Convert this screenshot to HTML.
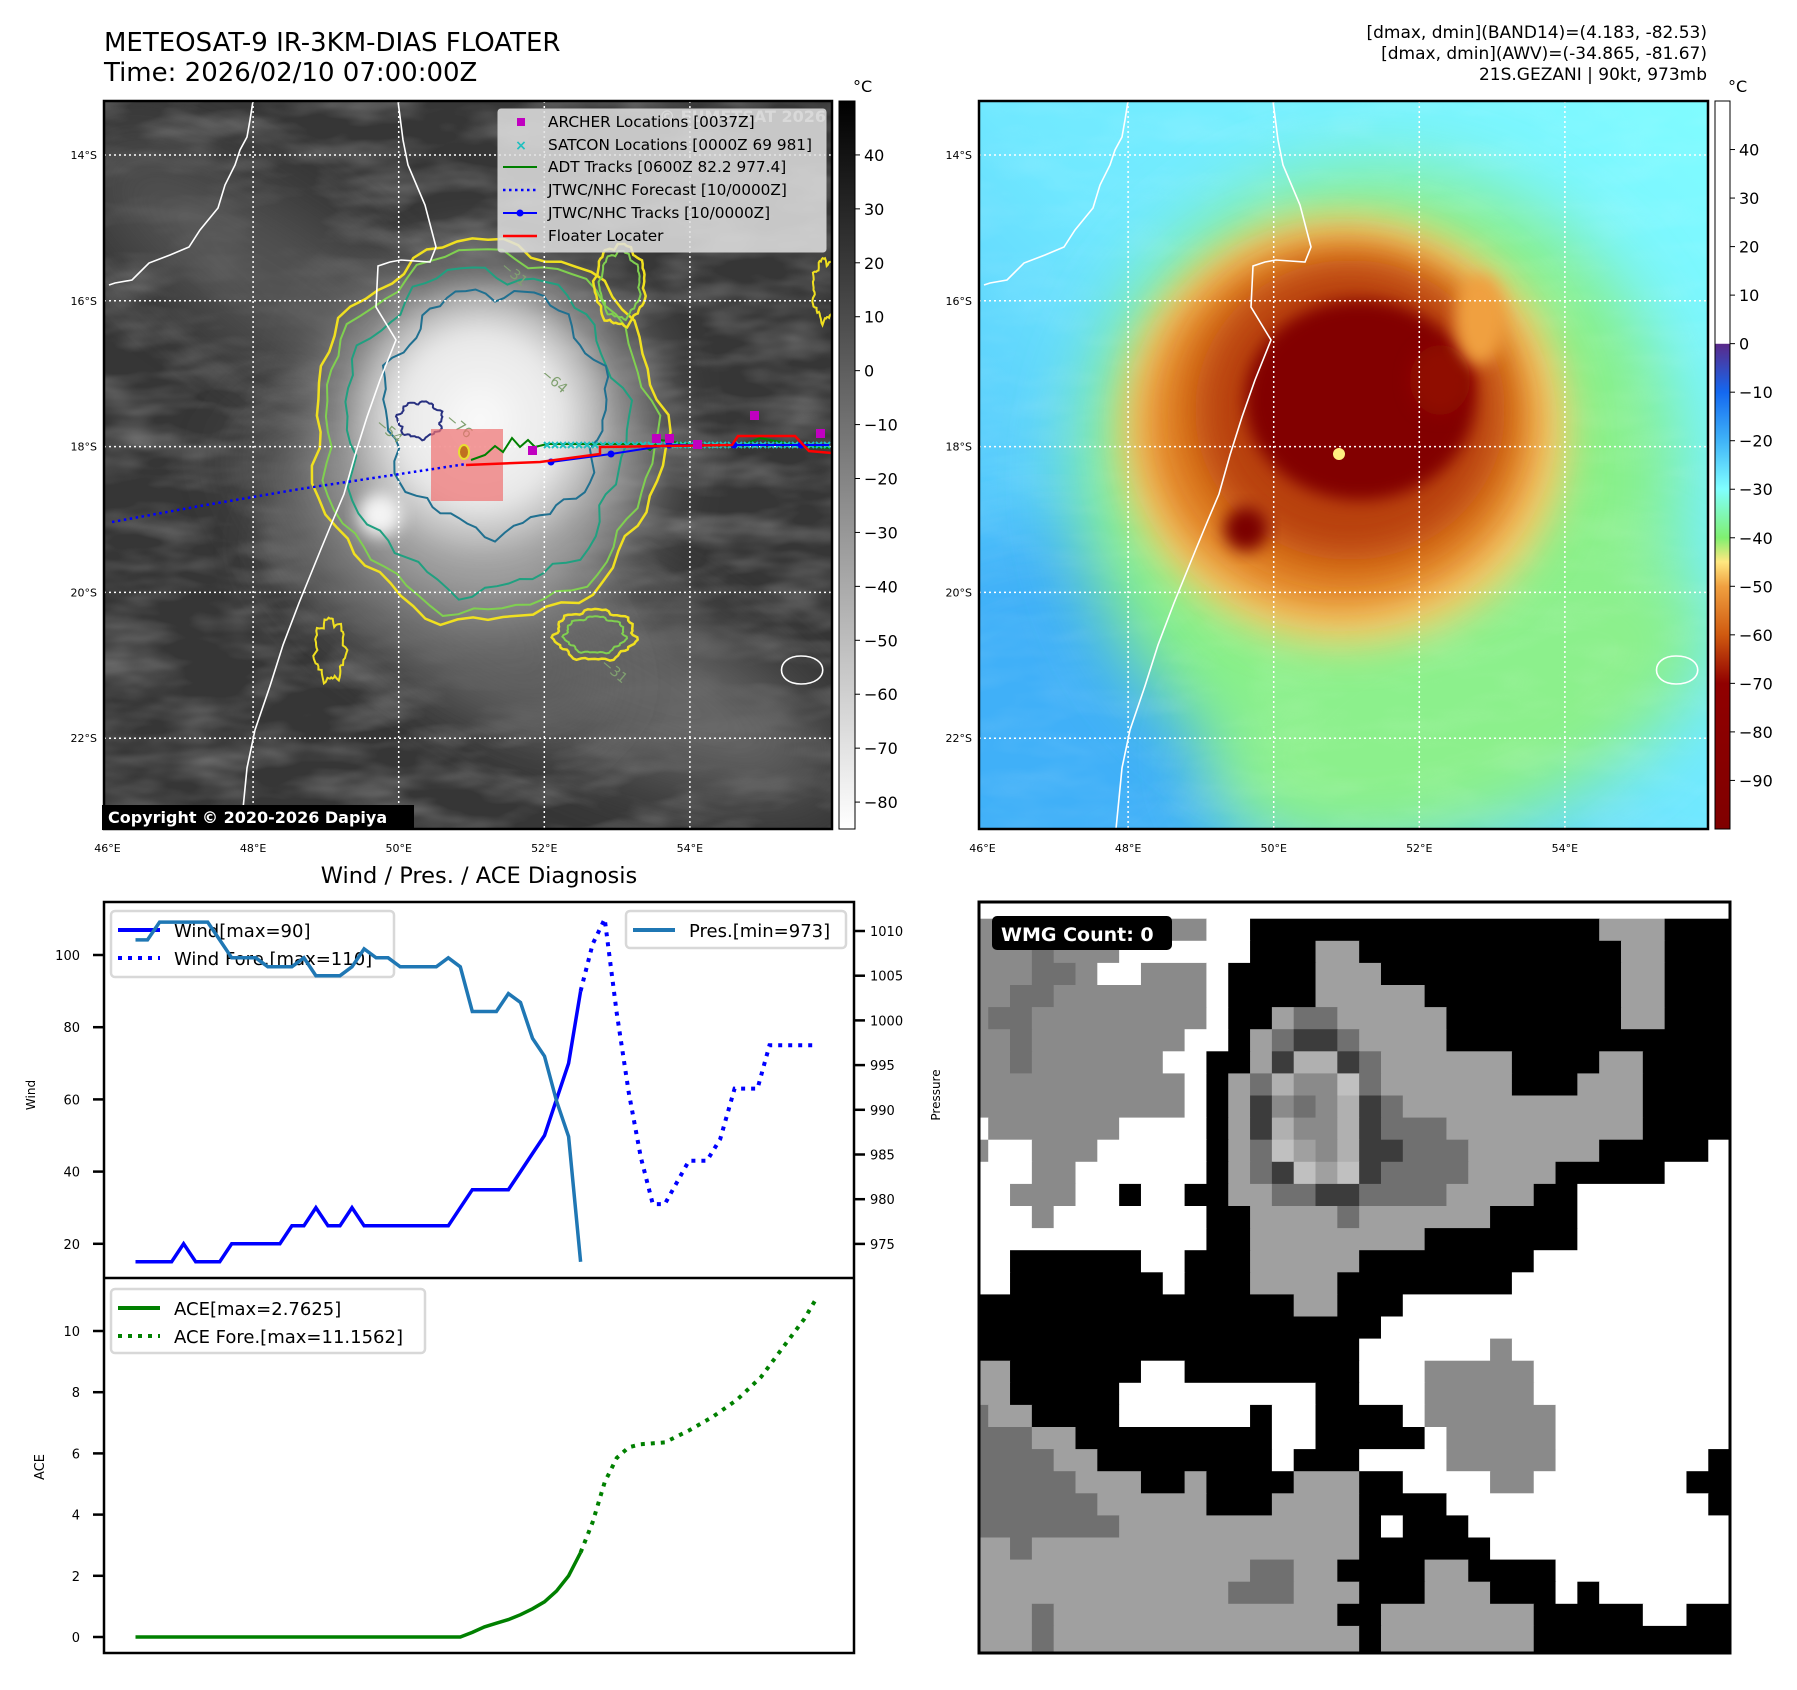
<!DOCTYPE html>
<html><head><meta charset="utf-8"><title>GEZANI diagnosis</title>
<style>
html,body{margin:0;padding:0;background:#fff;}
svg{display:block;font-family:"DejaVu Sans","Liberation Sans",sans-serif;}
</style></head>
<body>
<svg id="root" width="1797" height="1690" viewBox="0 0 1797 1690" xmlns="http://www.w3.org/2000/svg">
<defs>
  <filter id="blur8" x="-30%" y="-30%" width="160%" height="160%"><feGaussianBlur stdDeviation="8"/></filter>
  <filter id="blur20" x="-30%" y="-30%" width="160%" height="160%"><feGaussianBlur stdDeviation="20"/></filter>
  <filter id="blur35" x="-50%" y="-50%" width="200%" height="200%"><feGaussianBlur stdDeviation="35"/></filter>
  <filter id="tex" x="0" y="0" width="100%" height="100%">
    <feTurbulence type="fractalNoise" baseFrequency="0.012 0.035" numOctaves="3" seed="4"/>
    <feColorMatrix type="matrix" values="0 0 0 0 1  0 0 0 0 1  0 0 0 0 1  1.4 0 0 0 -0.55"/>
  </filter>
  <clipPath id="clip1"><rect x="104" y="101" width="728" height="728"/></clipPath>
  <clipPath id="clip2"><rect x="979" y="101" width="729" height="728"/></clipPath>
  <clipPath id="clipW"><rect x="979" y="902" width="751" height="751"/></clipPath>
  <linearGradient id="cb1" x1="0" y1="0" x2="0" y2="1"><stop offset="0" stop-color="#000"/><stop offset="1" stop-color="#fff"/></linearGradient>
  <linearGradient id="cb2" x1="0" y1="0" x2="0" y2="1">
    <stop offset="0" stop-color="#fff"/><stop offset="0.333" stop-color="#fff"/>
    <stop offset="0.334" stop-color="#5a2a8a"/><stop offset="0.40" stop-color="#1468f0"/>
    <stop offset="0.467" stop-color="#40b4f8"/><stop offset="0.533" stop-color="#80ffff"/>
    <stop offset="0.60" stop-color="#80f070"/><stop offset="0.633" stop-color="#ffe880"/>
    <stop offset="0.667" stop-color="#f0a040"/><stop offset="0.733" stop-color="#d05a10"/>
    <stop offset="0.80" stop-color="#900000"/><stop offset="1" stop-color="#800000"/>
  </linearGradient>
  <linearGradient id="bg2" x1="1" y1="0" x2="0" y2="1">
    <stop offset="0" stop-color="#80fcff"/><stop offset="0.5" stop-color="#70e8ff"/><stop offset="1" stop-color="#40b0f8"/>
  </linearGradient>
  <radialGradient id="core1"><stop offset="0" stop-color="#fafafa"/><stop offset="0.6" stop-color="#e8e8e8"/><stop offset="1" stop-color="#e0e0e0" stop-opacity="0"/></radialGradient>
</defs>

<!-- titles -->
<text x="104" y="51" font-size="26" fill="#000">METEOSAT-9 IR-3KM-DIAS FLOATER</text>
<text x="104" y="81" font-size="26" fill="#000">Time: 2026/02/10 07:00:00Z</text>
<text x="1707" y="38" font-size="17" text-anchor="end">[dmax, dmin](BAND14)=(4.183, -82.53)</text>
<text x="1707" y="59" font-size="17" text-anchor="end">[dmax, dmin](AWV)=(-34.865, -81.67)</text>
<text x="1707" y="80" font-size="17" text-anchor="end">21S.GEZANI | 90kt, 973mb</text>

<!-- MAP 1 -->
<g id="map1">
 <g clip-path="url(#clip1)">
  <rect x="104" y="101" width="728" height="728" fill="#363636"/>
  <rect x="104" y="101" width="728" height="728" filter="url(#tex)" opacity="0.35"/>
  <ellipse cx="300" cy="300" rx="260" ry="70" fill="#5a5a5a" transform="rotate(35 300 300)" filter="url(#blur35)" opacity="0.8"/>
  <ellipse cx="560" cy="650" rx="300" ry="80" fill="#6a6a6a" transform="rotate(25 560 650)" filter="url(#blur35)" opacity="0.9"/>
  <ellipse cx="420" cy="570" rx="220" ry="70" fill="#5e5e5e" transform="rotate(40 420 570)" filter="url(#blur35)"/>
  <ellipse cx="485" cy="440" rx="165" ry="175" fill="#a8a8a8" filter="url(#blur35)"/>
  <ellipse cx="480" cy="420" rx="135" ry="140" fill="url(#core1)" filter="url(#blur8)"/>
  <ellipse cx="380" cy="515" rx="22" ry="22" fill="#f4f4f4" filter="url(#blur8)"/>
  <g id="contours1" fill="none" stroke-width="2"></g>
  <g id="grid1" stroke="#fff" stroke-width="1.5" stroke-dasharray="2 3"></g>
  <path id="coast1" fill="none" stroke="#fff" stroke-width="1.6" d="M398,101 L403,140 L408,165 L425,205 L436,247 L430,262 L401,260 L390,262 L378,266 L376,307 L396,340 L380,380 L367,417 L355,455 L344,494 L333,520 L321,549 L299,603 L283,645 L270,686 L255,730 L247,768 L241,829 M253,101 L250,120 L247,137 L240,150 L235,165 L225,185 L218,208 L200,230 L189,247 L170,255 L149,263 L140,272 L132,280 L115,283 L109,285 M801,656 C830,656 830,684 801,684 C775,684 775,656 801,656 Z"/>
  <rect x="431" y="429" width="72" height="72" fill="#f07070" opacity="0.7"/>
  <ellipse cx="464" cy="452" rx="5" ry="7" fill="#c07020" stroke="#e8e030" stroke-width="2"/>
  <polyline points="112,522 200,506 300,489 400,474 466,464" fill="none" stroke="#0000ff" stroke-width="2.5" stroke-dasharray="2.5 3.5"/>
  <polyline points="471,460 485,455 495,446 503,452 512,438 520,447 528,440 535,447 547,444 600,444 640,444 650,450 660,440 700,446 740,446 760,438 780,442 800,446 830,448" fill="none" stroke="#008000" stroke-width="2"/>
  <g id="satcon" stroke="#20c0c0" stroke-width="2"></g>
  <polyline points="551,462 611,454 669,445 734,445 801,445 829,445" fill="none" stroke="#0000ff" stroke-width="2"/>
  <g fill="#0000ff"><circle cx="551" cy="462" r="3.5"/><circle cx="611" cy="454" r="3.5"/><circle cx="669" cy="445" r="3.5"/><circle cx="734" cy="445" r="3.5"/><circle cx="801" cy="445" r="3.5"/></g>
  <polyline points="466,465 540,462 600,454 600,447 732,445 738,436 795,436 809,451 832,453" fill="none" stroke="#ff0000" stroke-width="2.5"/>
  <g fill="#c000c0"><rect x="528" y="446" width="9" height="9"/><rect x="652" y="434" width="9" height="9"/><rect x="665" y="434" width="9" height="9"/><rect x="693" y="440" width="9" height="9"/><rect x="750" y="411" width="9" height="9"/><rect x="816" y="429" width="9" height="9"/></g>
  <text x="826" y="122" font-size="16" font-weight="bold" fill="#fff" opacity="0.6" text-anchor="end">© EUMETSAT 2026</text>
 </g>
 <rect x="104" y="101" width="728" height="728" fill="none" stroke="#000" stroke-width="2.5"/>
 <g>
  <rect x="498" y="109" width="328" height="143" rx="3" fill="#e0e0e0" fill-opacity="0.85" stroke="#ccc"/>
  <rect x="517" y="118" width="8" height="8" fill="#c000c0"/>
  <text x="521" y="150" font-size="14" font-weight="bold" fill="#20c0c0" text-anchor="middle">×</text>
  <line x1="503" y1="167" x2="537" y2="167" stroke="#008000" stroke-width="2"/>
  <line x1="503" y1="190" x2="537" y2="190" stroke="#0000ff" stroke-width="2.5" stroke-dasharray="2.5 3.5"/>
  <line x1="503" y1="213" x2="537" y2="213" stroke="#0000ff" stroke-width="2"/><circle cx="520" cy="213" r="3.5" fill="#0000ff"/>
  <line x1="503" y1="236" x2="537" y2="236" stroke="#ff0000" stroke-width="2.5"/>
  <g font-size="15.3" fill="#000">
   <text x="548" y="127">ARCHER Locations [0037Z]</text>
   <text x="548" y="150">SATCON Locations [0000Z 69 981]</text>
   <text x="548" y="172">ADT Tracks [0600Z 82.2 977.4]</text>
   <text x="548" y="195">JTWC/NHC Forecast [10/0000Z]</text>
   <text x="548" y="218">JTWC/NHC Tracks [10/0000Z]</text>
   <text x="548" y="241">Floater Locater</text>
  </g>
 </g>
 <rect x="102" y="805" width="312" height="25" fill="#000"/>
 <text x="108" y="823" font-size="16" font-weight="bold" fill="#fff">Copyright © 2020-2026 Dapiya</text>
 <rect x="839" y="101" width="16" height="728" fill="url(#cb1)" stroke="#000" stroke-width="1"/>
 <text x="853" y="92" font-size="16">°C</text>
 <g id="cbt1" font-size="16"></g>
 <g id="axl1" font-size="11"></g>
</g>

<!-- MAP 2 -->
<g id="map2">
 <g clip-path="url(#clip2)">
  <rect x="979" y="101" width="729" height="728" fill="url(#bg2)"/>
  <ellipse cx="1050" cy="720" rx="200" ry="190" fill="#40b0f8" filter="url(#blur35)"/>
  <ellipse cx="1380" cy="480" rx="300" ry="310" fill="#88f088" filter="url(#blur35)"/>
  <ellipse cx="1460" cy="700" rx="260" ry="130" fill="#8cf08c" filter="url(#blur35)" transform="rotate(-20 1460 700)"/>
  <rect x="979" y="101" width="729" height="728" filter="url(#tex)" opacity="0.12"/>
  <ellipse cx="1345" cy="430" rx="225" ry="215" fill="#f8d070" filter="url(#blur20)"/>
  <ellipse cx="1340" cy="425" rx="195" ry="185" fill="#e08020" filter="url(#blur20)"/>
  <ellipse cx="1350" cy="410" rx="155" ry="150" fill="#b84008" filter="url(#blur20)"/>
  <ellipse cx="1360" cy="400" rx="115" ry="100" fill="#820000" filter="url(#blur8)"/>
  <ellipse cx="1440" cy="380" rx="30" ry="35" fill="#900a00" filter="url(#blur8)"/>
  <ellipse cx="1246" cy="529" rx="22" ry="22" fill="#7a0000" filter="url(#blur8)"/>
  <ellipse cx="1339" cy="454" rx="6" ry="6" fill="#fff080"/>
  <ellipse cx="1480" cy="320" rx="25" ry="45" fill="#f0a040" filter="url(#blur8)"/>
  <g id="grid2" stroke="#fff" stroke-width="1.5" stroke-dasharray="2 3"></g>
  <use href="#coast1" transform="translate(875 0)"/>
 </g>
 <rect x="979" y="101" width="729" height="728" fill="none" stroke="#000" stroke-width="2.5"/>
 <rect x="1715" y="101" width="15" height="728" fill="url(#cb2)" stroke="#000" stroke-width="1"/>
 <text x="1728" y="92" font-size="16">°C</text>
 <g id="cbt2" font-size="16"></g>
 <g id="axl2" font-size="11"></g>
</g>

<!-- DIAGNOSIS CHART -->
<text x="479" y="883" font-size="22.5" text-anchor="middle">Wind / Pres. / ACE Diagnosis</text>
<g id="diag"></g>

<!-- WMG -->
<g id="wmg">
 <g id="wmgcells" clip-path="url(#clipW)"></g>
 <rect x="979" y="902" width="751" height="751" fill="none" stroke="#000" stroke-width="3"/>
 <rect x="992" y="916" width="180" height="34" rx="5" fill="#000"/>
 <text x="1001" y="941" font-size="19" font-weight="bold" fill="#fff">WMG Count: 0</text>
</g>

<script>
// ---- chart data ----
const windObs = [15,15,15,15,20,15,15,15,20,20,20,20,20,25,25,30,25,25,30,25,25,25,25,25,25,25,25,30,35,35,35,35,40,45,50,60,70,90];
const presObs = [1009,1009,1011,1011,1011,1011,1011,1009,1007,1007,1007,1006,1006,1006,1007,1005,1005,1005,1006,1008,1007,1007,1006,1006,1006,1006,1007,1006,1001,1001,1001,1003,1002,998,996,991,987,973];
const windFcStep = [37,38,39,40,41,42,43,44,45,46,47.5,48.6,49.8,51.7,52.7,56.5];
const windFc = [90,103,110,84,62,44,31,31,37,43,43,49,63,63,75,75];
const aceObs = [0,0,0,0,0,0,0,0,0,0,0,0,0,0,0,0,0,0,0,0,0,0,0,0,0,0,0,0,0.15,0.33,0.45,0.57,0.73,0.92,1.15,1.5,2.0,2.76];
const aceFcStep = [37,38,39,40,41,42,44,46,48,50,52,53.7,55.6,56.5];
const aceFc = [2.76,3.75,5.06,5.85,6.2,6.3,6.36,6.75,7.2,7.75,8.5,9.4,10.4,11.0];
const windTicks = [20,40,60,80,100];
const presTicks = [975,980,985,990,995,1000,1005,1010];
const aceTicks = [0,2,4,6,8,10];
const cb1Ticks = [40,30,20,10,0,-10,-20,-30,-40,-50,-60,-70,-80];
const cb2Ticks = [40,30,20,10,0,-10,-20,-30,-40,-50,-60,-70,-80,-90];
const lonTicks = [46,48,50,52,54];
const latTicks = [14,16,18,20,22];

const NS='http://www.w3.org/2000/svg';
function mk(tag, attrs, parent, text){const e=document.createElementNS(NS,tag);for(const k in attrs)e.setAttribute(k,attrs[k]);if(text!==undefined)e.textContent=text;parent.appendChild(e);return e;}
const fmt=v=>v<0?'\u2212'+Math.abs(v):String(v);

const xS = i => 135.5 + 12.03*i;
const yW = w => 1316 - 3.61*w;
const yP = p => 931 + (1010-p)*8.94;
const yA = a => 1637 - 30.6*a;
const lonX = lon => 107.5 + 72.8*(lon-46);
const latY = lat => 155 + 72.9*(lat-14);
const cb1Y = v => 101 + (50-v)*5.393;
const cb2Y = v => 101 + (50-v)*4.853;

[['grid1','axl1',0],['grid2','axl2',875]].forEach(([g,a,off])=>{
  const G=document.getElementById(g), A=document.getElementById(a);
  lonTicks.forEach(lon=>{ if(lon>46){ const l=mk('line',{x1:lonX(lon)+off,y1:101,x2:lonX(lon)+off,y2:829},G);
     }
    const t=mk('text',{x:lonX(lon)+off,y:852,'text-anchor':'middle'},A,lon+'°E');
     });
  latTicks.forEach(lat=>{ const l=mk('line',{x1:104+off,y1:latY(lat),x2:832+off,y2:latY(lat)},G);
     
    const t=mk('text',{x:97+off,y:latY(lat)+4,'text-anchor':'end'},A,lat+'°S');
     });
});
const C1=document.getElementById('cbt1');
cb1Ticks.forEach(v=>{mk('line',{x1:855,x2:860,y1:cb1Y(v),y2:cb1Y(v),stroke:'#000'},C1);
  const t=mk('text',{x:864,y:cb1Y(v)+6},C1,fmt(v));  });
const C2=document.getElementById('cbt2');
cb2Ticks.forEach(v=>{mk('line',{x1:1730,x2:1735,y1:cb2Y(v),y2:cb2Y(v),stroke:'#000'},C2);
  const t=mk('text',{x:1739,y:cb2Y(v)+6},C2,fmt(v));  });

const CT=document.getElementById('contours1');
function blob(cx,cy,rx,ry,amp,seed,color,w){let d='';for(let k=0;k<=72;k++){const a=k/72*2*Math.PI;
  const r=1+amp*(Math.sin(a*7+seed)*0.5+Math.sin(a*13+seed*2)*0.3+Math.sin(a*23+seed*3)*0.2);
  d+=(k?'L':'M')+(cx+rx*r*Math.cos(a)).toFixed(1)+','+(cy+ry*r*Math.sin(a)).toFixed(1);}
  const p=mk('path',{d:d+'Z',stroke:color,'stroke-width':w},CT);  }
blob(488,432,175,190,0.06,1,'#f0e020',2.5);
blob(488,432,165,180,0.06,1.3,'#80d050',2);
blob(485,430,140,160,0.08,2,'#20a080',2);
blob(495,410,110,120,0.1,3,'#207090',2);
blob(420,420,22,18,0.15,4,'#283080',2);
blob(620,285,25,40,0.1,5,'#f0e020',2.5);
blob(620,285,20,33,0.1,5,'#80d050',2);
blob(595,635,40,25,0.12,6,'#f0e020',2.5);
blob(595,635,30,18,0.12,6,'#80d050',2);
blob(330,650,15,30,0.2,7,'#f0e020',2);
blob(825,290,12,30,0.2,8,'#f0e020',2);
[['−31',500,268],['−64',540,375],['−76',445,420],['−54',375,425],['−31',600,665]].forEach(([s,x,y])=>{mk('text',{x:x,y:y,'font-size':'14',fill:'#80a070',transform:`rotate(40 ${x} ${y})`},CT,s);});
const SC=document.getElementById('satcon');
for(let x=547;x<832;x+=8){mk('path',{d:`M${x-3},${442} l6,6 M${x+3},${442} l-6,6`},SC);}

const wmgRows=["35W","11M2W16B3L3B","3M1D3M6W3B2L12B2L3B","3M2D1M2W3M1W4B3L11B2L3B","2M2D7M1W4B5L9B2L3B","1M2D8M1W2B1L2D5L8B2L3B","2M1D7M2W1B1L1D2K1D4L13B","2M1D6M2W2B1L1K2P1K1D6L4B2L4B","10M1W1B1L1D1P2M1Q1D6L3B3L4B","10M1W1B1L1K1M1D1M1P1K1D11L4B","1W6M4W1B1L1K1P2M1P1K3D9L4B","1M2W3M5W1B1L1D1Q1L1M1P2K3D6L5B1W","3W2M6W1B1L1D1K1Q1L1Q1K4D4L5B3W","2W3M2W1B2W2B2L2D2K4D4L2B7W","3W1M7W2B4L1D6L4B7W","11W2B8L7B7W","2W6B2W3B5L8B9W","2W7B1W3B4L8B10W","15B2L3B15W","19B16W","18B6W1M10W","2L6B2W8B3W5M9W","2L5B9W2B3W5M9W","1D2L4B6W1B2W4B1W6M8W","3D2L9B2W5B1W5M8W","4D2L8B1W3B4W5M7W1B","5D3L2B1L4B3L2B4W2M7W2B","6D5L3B4L4B12W1B","7D11L1B1W3B12W","2L1D15L6B11W","13L2D2L4B2L4B8W","12L3D3L3B3L3B1W1B6W","3L1D13L2B7L5B2W2B","3L1D14L1B7L9B","3L1D14L1B7L9B"];
const wmgColor={W:'#ffffff',B:'#000000',L:'#a0a0a0',M:'#8a8a8a',D:'#707070',K:'#3c3c3c',P:'#b0b0b0',Q:'#c0c0c0'};
const WG=document.getElementById('wmgcells');
wmgRows.forEach((code,r)=>{const re=/(\d+)([A-Z])/g;let m,c=0;while((m=re.exec(code))){const n=+m[1];
  const rc=mk('rect',{x:(966.4+21.82*c).toFixed(2),y:(896.6+22.1*r).toFixed(2),width:(21.82*n+0.6).toFixed(2),height:'22.7',fill:wmgColor[m[2]]},WG);
    c+=n;}});

const D=document.getElementById('diag');
function path(xs,ys,yf){return xs.map((x,k)=>(k?'L':'M')+xS(x).toFixed(1)+','+yf(ys[k]).toFixed(1)).join(' ');}
const idx=windObs.map((_,k)=>k);
function legend(x,y,w,h,items,name){const g=mk('g',{},D);  
  mk('rect',{x:x,y:y,width:w,height:h,rx:4,fill:'#fff','fill-opacity':0.8,stroke:'#d8d8d8','stroke-width':2.5},g);
  items.forEach(([label,color,dash],k)=>{const yy=y+19+k*28;
    mk('line',{x1:x+7,x2:x+49,y1:yy,y2:yy,stroke:color,'stroke-width':4,'stroke-dasharray':dash?'4 6':'none'},g);
    mk('text',{x:x+63,y:yy+7,'font-size':'18'},g,label);});}
mk('rect',{x:104,y:902,width:750,height:751,fill:'none',stroke:'#000','stroke-width':2.5},D);
mk('line',{x1:104,x2:854,y1:1278,y2:1278,stroke:'#000','stroke-width':2.5},D);
windTicks.forEach(v=>{mk('line',{x1:93,x2:104,y1:yW(v),y2:yW(v),stroke:'#000','stroke-width':2.5},D);
  const t=mk('text',{x:80,y:yW(v)+5,'font-size':'13','text-anchor':'end'},D,v);  });
presTicks.forEach(v=>{mk('line',{x1:854,x2:865,y1:yP(v),y2:yP(v),stroke:'#000','stroke-width':2.5},D);
  const t=mk('text',{x:870,y:yP(v)+5,'font-size':'13'},D,v);  });
aceTicks.forEach(v=>{mk('line',{x1:93,x2:104,y1:yA(v),y2:yA(v),stroke:'#000','stroke-width':2.5},D);
  const t=mk('text',{x:80,y:yA(v)+5,'font-size':'13','text-anchor':'end'},D,v);  });
let t;
t=mk('text',{x:35,y:1095,'font-size':'12','text-anchor':'middle',transform:'rotate(-90 35 1095)'},D,'Wind');  
t=mk('text',{x:940,y:1095,'font-size':'12','text-anchor':'middle',transform:'rotate(-90 940 1095)'},D,'Pressure');  
t=mk('text',{x:44,y:1467,'font-size':'13','text-anchor':'middle',transform:'rotate(-90 44 1467)'},D,'ACE');  
let s;
s=mk('path',{d:path(idx,windObs,yW),fill:'none',stroke:'#0000ff','stroke-width':3.5},D);  
s=mk('path',{d:path(windFcStep,windFc,yW),fill:'none',stroke:'#0000ff','stroke-width':4,'stroke-dasharray':'4 6'},D);  
legend(111,911,283,66,[['Wind[max=90]','#0000ff',0],['Wind Fore.[max=110]','#0000ff',1]],'wind-legend');
s=mk('path',{d:path(idx,presObs,yP),fill:'none',stroke:'#1f77b4','stroke-width':3.5},D);  
s=mk('path',{d:path(idx,aceObs,yA),fill:'none',stroke:'#008000','stroke-width':3.5},D);  
s=mk('path',{d:path(aceFcStep,aceFc,yA),fill:'none',stroke:'#008000','stroke-width':4,'stroke-dasharray':'4 6'},D);  
legend(626,911,220,37,[['Pres.[min=973]','#1f77b4',0]],'pressure-legend');
legend(111,1289,314,64,[['ACE[max=2.7625]','#008000',0],['ACE Fore.[max=11.1562]','#008000',1]],'ace-legend');
</script>
</svg>
</body></html>
